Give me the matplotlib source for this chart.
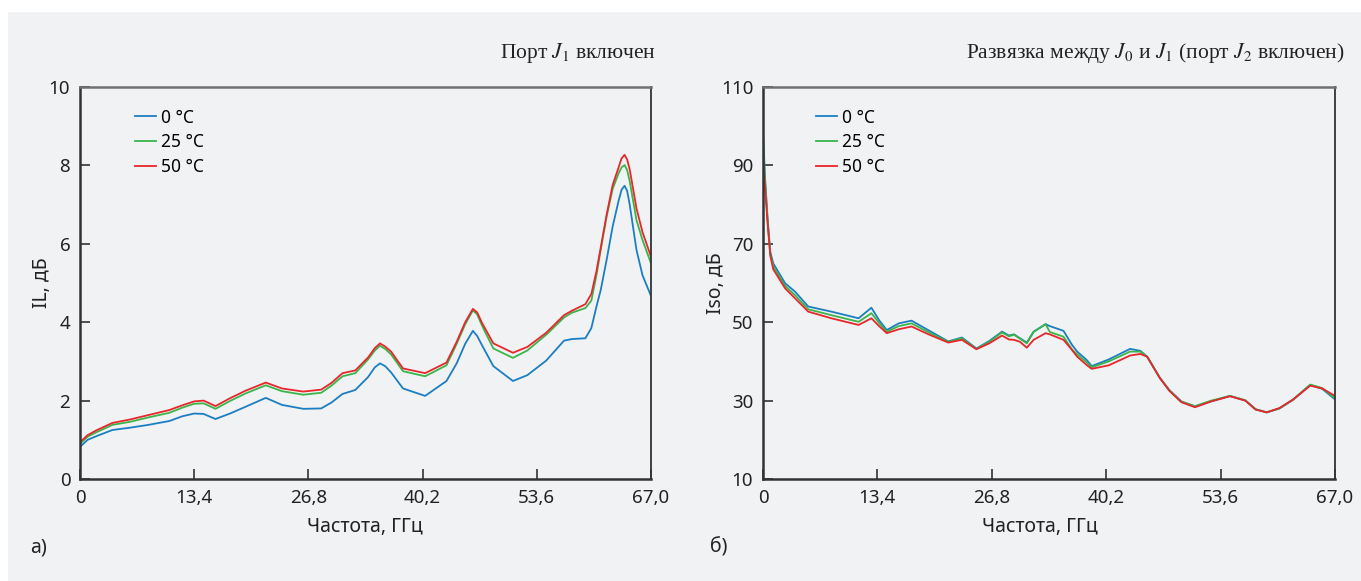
import numpy as np
import matplotlib
matplotlib.use("Agg")
import matplotlib.pyplot as plt
from matplotlib.patches import Rectangle

plt.rcParams['font.family'] = ['Noto Sans', 'DejaVu Sans']
plt.rcParams['mathtext.fontset'] = 'stix'

# ---- panel a: insertion loss, port J1 on ----
freq_il = [0, 0.9, 2.0, 3.8, 5.9, 8.0, 10.5, 12.0, 13.4, 14.5, 15.9, 17.6, 19.4,
           21.8, 23.7, 26.2, 28.3, 29.5, 30.8, 32.3, 33.8, 34.6, 35.2, 35.8, 36.5,
           37.9, 40.5, 43.0, 44.2, 45.2, 46.1, 46.6, 47.2, 48.5, 50.8, 52.5, 54.7,
           56.8, 57.7, 59.3, 60.0, 60.6, 61.1, 61.8, 62.5, 63.2, 63.55, 63.9, 64.2,
           64.5, 65.3, 66.0, 67.0]
il_0 = [0.82, 1.00, 1.10, 1.25, 1.31, 1.38, 1.48, 1.60, 1.67, 1.66, 1.53, 1.67, 1.84,
        2.07, 1.89, 1.79, 1.80, 1.95, 2.17, 2.27, 2.60, 2.85, 2.95, 2.88, 2.72,
        2.31, 2.12, 2.50, 2.95, 3.45, 3.78, 3.65, 3.40, 2.88, 2.50, 2.65, 3.02,
        3.53, 3.57, 3.59, 3.85, 4.40, 4.82, 5.60, 6.44, 7.10, 7.38, 7.48, 7.35,
        7.00, 5.84, 5.20, 4.67]
il_25 = [0.90, 1.08, 1.20, 1.38, 1.46, 1.57, 1.69, 1.82, 1.92, 1.93, 1.79, 1.99, 2.18,
         2.39, 2.24, 2.15, 2.20, 2.38, 2.62, 2.70, 3.05, 3.28, 3.40, 3.32, 3.18,
         2.75, 2.62, 2.90, 3.45, 3.95, 4.30, 4.20, 3.90, 3.33, 3.09, 3.28, 3.68,
         4.12, 4.24, 4.36, 4.55, 5.20, 5.85, 6.70, 7.40, 7.80, 7.95, 8.01, 7.88,
         7.60, 6.60, 6.10, 5.50]
il_50 = [0.94, 1.12, 1.25, 1.43, 1.52, 1.63, 1.76, 1.88, 1.98, 2.00, 1.86, 2.06, 2.25,
         2.46, 2.31, 2.23, 2.28, 2.45, 2.70, 2.77, 3.10, 3.34, 3.46, 3.38, 3.25,
         2.82, 2.70, 2.97, 3.50, 4.00, 4.34, 4.25, 3.97, 3.46, 3.22, 3.37, 3.73,
         4.18, 4.29, 4.46, 4.72, 5.30, 5.90, 6.75, 7.50, 7.95, 8.18, 8.27, 8.15,
         7.90, 6.90, 6.30, 5.67]

# ---- panel b: isolation J0-J1, port J2 on ----
freq_iso = [0, 0.25, 0.55, 0.85, 1.2, 2.6, 3.75, 5.3, 8.0, 11.2, 12.7, 13.6, 14.5,
            15.9, 17.4, 19.5, 21.7, 23.3, 25.0, 26.5, 28.0, 28.8, 29.4, 30.1, 30.9,
            31.7, 33.1, 33.6, 35.2, 36.2, 36.8, 37.9, 38.5, 40.5, 43.0, 44.2, 45.0,
            46.5, 47.6, 49.0, 50.6, 52.5, 54.7, 56.5, 57.7, 59.0, 60.5, 62.1, 64.1,
            65.5, 67.0]
iso_0 = [98.6, 86.5, 76.1, 68.0, 65.0, 59.9, 57.8, 54.0, 52.7, 51.0, 53.7, 50.5, 48.0,
         49.7, 50.4, 47.8, 45.1, 46.1, 43.3, 45.2, 47.6, 46.6, 46.9, 45.9, 44.8,
         47.6, 49.5, 49.0, 47.8, 44.2, 42.5, 40.4, 38.8, 40.5, 43.2, 42.7, 41.2,
         35.7, 32.7, 29.8, 28.5, 29.8, 31.2, 30.0, 27.8, 27.0, 28.0, 30.2, 34.0,
         33.0, 30.3]
iso_25 = [95.0, 85.5, 75.5, 67.5, 64.2, 59.2, 56.9, 53.3, 51.8, 50.1, 52.3, 49.8, 47.6,
          49.0, 49.7, 47.3, 45.0, 45.9, 43.2, 45.0, 47.4, 46.4, 46.8, 45.8, 44.6,
          47.5, 49.5, 47.5, 46.3, 43.0, 41.8, 39.8, 38.5, 40.0, 42.5, 42.5, 41.2,
          35.8, 32.6, 29.7, 28.6, 30.0, 31.2, 30.1, 27.8, 27.0, 28.0, 30.3, 34.1,
          33.2, 30.6]
iso_50 = [91.6, 84.0, 75.0, 67.0, 63.5, 58.6, 56.1, 52.7, 51.0, 49.3, 51.0, 49.0, 47.2,
          48.2, 48.9, 46.8, 44.8, 45.5, 43.1, 44.6, 46.6, 45.6, 45.5, 45.0, 43.5,
          45.5, 47.2, 46.9, 45.5, 42.9, 41.2, 39.1, 38.1, 39.0, 41.5, 41.9, 41.2,
          35.7, 32.5, 29.6, 28.3, 29.8, 31.1, 30.0, 27.7, 27.0, 28.1, 30.3, 33.8,
          33.1, 31.2]

labels = ['0 °C', '25 °C', '50 °C']
colors = ['#1b7ec2', '#3ab54a', '#e8262b']
x_ticks = [0, 13.4, 26.8, 40.2, 53.6, 67.0]
x_ticklabels = ['0', '13,4', '26,8', '40,2', '53,6', '67,0']
il_ticks = [0, 2, 4, 6, 8, 10]
iso_ticks = [10, 30, 50, 70, 90, 110]

W, H = 1361, 581
fig = plt.figure(figsize=(W / 100, H / 100), dpi=100)
fig.patch.set_facecolor('white')
fig.add_artist(Rectangle((8 / W, 0), 1 - 8 / W, 1 - 12 / H, transform=fig.transFigure,
                         facecolor='#f1f2f4', edgecolor='none', zorder=0))

ax1 = fig.add_axes([80 / W, 1 - 479 / H, 571 / W, 392 / H])
ax2 = fig.add_axes([763 / W, 1 - 479 / H, 572 / W, 392 / H])


def style_axes(ax, yticks):
    ax.set_facecolor('none')
    ax.set_xlim(0, 67)
    ax.set_ylim(yticks[0], yticks[-1])
    ax.set_xticks(x_ticks)
    ax.set_xticklabels(x_ticklabels)
    ax.set_yticks(yticks)
    ax.set_yticklabels([str(t) for t in yticks])
    ax.tick_params(direction='in', length=7, width=1.2, color='#333333',
                   labelsize=13.5, labelcolor='#222222', pad=7)
    for side in ['left', 'bottom']:
        ax.spines[side].set_color('#333333')
        ax.spines[side].set_linewidth(1.8)
    ax.spines['top'].set_color('#707070')
    ax.spines['top'].set_linewidth(1.8)
    ax.spines['right'].set_color('#333333')
    ax.spines['right'].set_linewidth(1.3)


for y, c, lab in zip([il_0, il_25, il_50], colors, labels):
    ax1.plot(freq_il, y, color=c, lw=1.3, label=lab)
for y, c, lab in zip([iso_0, iso_25, iso_50], colors, labels):
    ax2.plot(freq_iso, y, color=c, lw=1.3, label=lab)

style_axes(ax1, il_ticks)
style_axes(ax2, iso_ticks)

for ax, x0 in [(ax1, 0.096), (ax2, 0.093)]:
    ax.legend(loc='upper left', bbox_to_anchor=(x0, 0.945), frameon=False,
              fontsize=12.5, handlelength=1.2, handletextpad=0.3,
              labelspacing=0.38, borderpad=0, borderaxespad=0)

# titles
fig.text(656 / W, 1 - 53 / H, r'Порт $J_1$ включен', ha='right', va='center',
         fontsize=15.5, family='Liberation Serif', color='#222222')
fig.text(1345 / W, 1 - 53 / H,
         r'Развязка между $J_0$ и $J_1$ (порт $J_2$ включен)',
         ha='right', va='center', fontsize=15.5, family='Liberation Serif',
         color='#222222')

# axis labels
fig.text(42 / W, 1 - 283 / H, 'IL, дБ', rotation=90, ha='center', va='center',
         fontsize=14, color='#222222')
fig.text(716 / W, 1 - 283 / H, 'Iso, дБ', rotation=90, ha='center', va='center',
         fontsize=14, color='#222222')
fig.text(365 / W, 1 - 527 / H, 'Частота, ГГц', ha='center', va='center',
         fontsize=14, color='#222222')
fig.text(1040 / W, 1 - 527 / H, 'Частота, ГГц', ha='center', va='center',
         fontsize=14, color='#222222')

# panel letters
fig.text(30 / W, 1 - 548 / H, 'а)', ha='left', va='center', fontsize=14, color='#222222')
fig.text(710 / W, 1 - 548 / H, 'б)', ha='left', va='center', fontsize=14, color='#222222')

fig.savefig('out.png', dpi=100)
